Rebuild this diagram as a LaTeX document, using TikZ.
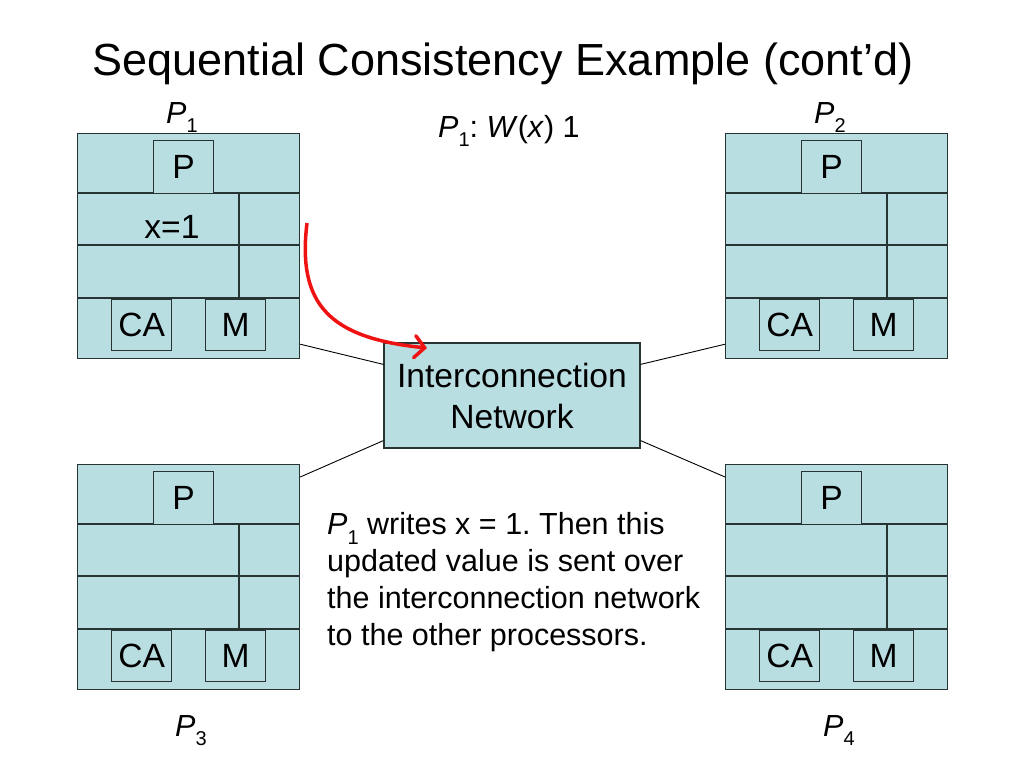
\documentclass[tikz,border=0pt]{standalone}
\usepackage{fontspec}
\setmainfont{Liberation Sans}
\usetikzlibrary{calc,arrows.meta}
\frenchspacing
\definecolor{cellfill}{RGB}{184,222,226}
\definecolor{edgecol}{RGB}{40,52,52}
\definecolor{arrowred}{RGB}{238,18,18}
\newcommand\lowsub[1]{\raisebox{-0.32em}{\fontsize{20}{20}\selectfont #1}}
\tikzset{
  cell/.style={draw=edgecol, fill=cellfill, line width=1.2pt, inner sep=0pt,
    font=\fontsize{33.6}{40}\selectfont},
  rowline/.style={draw=edgecol, line width=1.2pt},
  link/.style={draw=black, line width=0.9pt},
  lbl/.style={inner sep=0pt, font=\fontsize{30.5}{36.7}\selectfont},
  redarrow/.style={draw=arrowred, line width=3.5pt,
    -{Straight Barb[length=10pt,width=22pt,line cap=round]}},
}
\newcommand\procmod[3]{%
  \begin{scope}[shift={(#2,#3)}]
    \node[cell, minimum width=222pt, minimum height=225pt, anchor=north west] (#1) at (0,0) {};
    \draw[rowline] (0,60) -- (222,60);
    \draw[rowline] (0,112) -- (222,112);
    \draw[rowline] (0,165) -- (222,165);
    \draw[rowline] (162,60) -- (162,165);
    \node[cell, minimum width=60pt, minimum height=53pt, anchor=north west] (#1-p) at (76,7) {P};
    \node[cell, minimum width=60pt, minimum height=51pt, anchor=north west] (#1-ca) at (34,166) {CA};
    \node[cell, minimum width=60pt, minimum height=51pt, anchor=north west] (#1-m) at (128,166) {M};
  \end{scope}}
\begin{document}
\begin{tikzpicture}[x=1pt,y=-1pt]
  \fill[white] (0,0) rectangle (1024,768);
  \useasboundingbox (0,0) rectangle (1024,768);

  \node[anchor=base, inner sep=0pt, font=\fontsize{45}{54}\selectfont] (title) at (503,75)
    {Sequential Consistency Example (cont’d)};

  \procmod{p1}{77}{133}
  \procmod{p2}{725}{133}
  \procmod{p3}{77}{464}
  \procmod{p4}{725}{464}

  \node[anchor=base, inner sep=0pt, font=\fontsize{33.6}{40}\selectfont] (x1) at (172,238) {x=1};

  \node[lbl, anchor=base west] (l1) at (166,123) {\textit{P}\lowsub{1}};
  \node[lbl, anchor=base west] (l2) at (814,123) {\textit{P}\lowsub{2}};
  \node[lbl, anchor=base west] (l3) at (175,736) {\textit{P}\lowsub{3}};
  \node[lbl, anchor=base west] (l4) at (823,736) {\textit{P}\lowsub{4}};

  \node[lbl, anchor=base west] (op) at (438,137)
    {\textit{P}\lowsub{1}: \textit{W}(\textit{x}) 1};

  \node[cell, minimum width=256pt, minimum height=105pt, align=center,
    font=\fontsize{33.6}{41}\selectfont] (net) at (512,395.5) {Interconnection\\Network};

  \draw[link] ($(p1.south east)+(0,-15)$) -- ($(net.north west)+(0,22)$);
  \draw[link] ($(p3.north east)+(0,13)$) -- ($(net.south west)+(0,-8)$);
  \draw[link] ($(net.north east)+(0,22)$) -- ($(p2.south west)+(0,-15)$);
  \draw[link] ($(net.south east)+(0,-8)$) -- ($(p4.north west)+(0,13)$);

  \coordinate (as) at (307,223);
  \coordinate (ae) at (427,348);
  \draw[redarrow] (as) .. controls (297,305) and (330,338) .. (ae);

  \node[lbl, anchor=base west, align=left] (para) at (327,645)
    {\textit{P}\lowsub{1} writes x = 1. Then this\\
     updated value is sent over\\
     the interconnection network\\
     to the other processors.};
\end{tikzpicture}
\end{document}
